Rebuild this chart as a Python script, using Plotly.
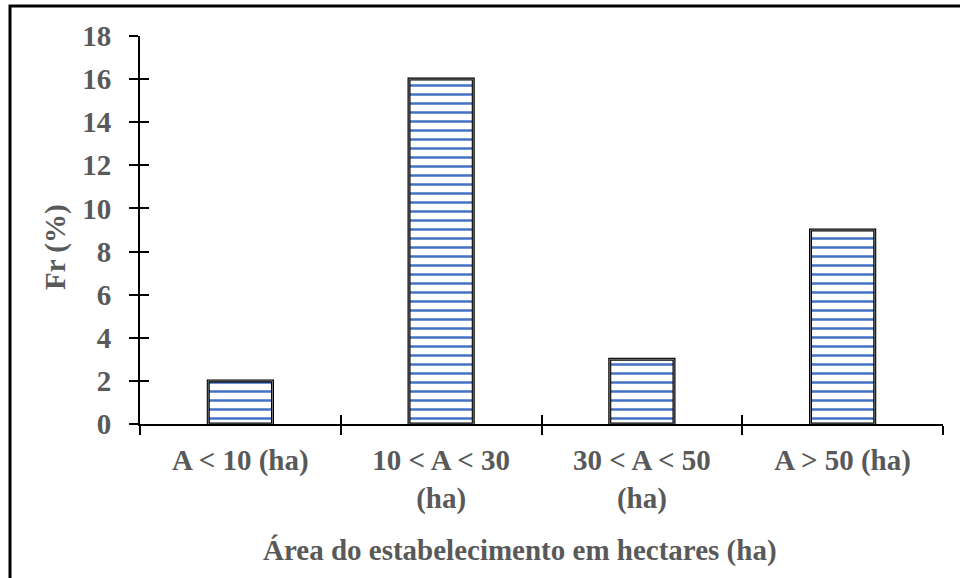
import plotly.graph_objects as go

categories = ["A &lt; 10 (ha)", "10 &lt; A &lt; 30<br>(ha)", "30 &lt; A &lt; 50<br>(ha)", "A &gt; 50 (ha)"]
values = [2, 16, 3, 9]
y_ticks = [0, 2, 4, 6, 8, 10, 12, 14, 16, 18]

font_family = "Liberation Serif, Times New Roman, serif"
gray = "#595959"

W, H = 960, 578
L, R, T, B = 140, 17, 36, 154
PW, PH = W - L - R, H - T - B

fig = go.Figure()
fig.add_trace(go.Bar(
    x=categories, y=values, width=0.32,
    marker=dict(color="white", line=dict(color="black", width=3),
                pattern=dict(shape="-", fgcolor="#4472C4", bgcolor="white",
                             size=9, solidity=0.28, fgopacity=1)),
    hoverinfo="skip", showlegend=False,
))
# invisible trace on overlay axes to render inner half of cross ticks
fig.add_trace(go.Bar(
    x=categories, y=values, width=0.32, xaxis="x2", yaxis="y2",
    marker=dict(color="rgba(0,0,0,0)"), hoverinfo="skip", showlegend=False,
))

axis_common = dict(showgrid=False, zeroline=False, showline=True,
                   linecolor="black", linewidth=2, tickcolor="black", tickwidth=2)

fig.update_layout(
    width=W, height=H,
    margin=dict(l=L, r=R, t=T, b=B),
    paper_bgcolor="white", plot_bgcolor="white",
    font=dict(family=font_family, color=gray, size=29),
    xaxis=dict(**axis_common, type="category", tickson="boundaries",
               ticks="outside", ticklen=9, ticklabelstandoff=9,
               tickfont=dict(family=font_family, size=29, color=gray, weight="bold")),
    yaxis=dict(**axis_common, range=[0, 18], tickvals=y_ticks,
               ticks="outside", ticklen=9, ticklabelstandoff=12,
               tickfont=dict(family=font_family, size=29, color=gray, weight="bold")),
    xaxis2=dict(**axis_common, type="category", tickson="boundaries", overlaying="x",
                matches="x", ticks="inside", ticklen=9, showticklabels=False),
    yaxis2=dict(**axis_common, range=[0, 18], tickvals=y_ticks, overlaying="y",
                matches="y", ticks="inside", ticklen=9, showticklabels=False),
    annotations=[
        dict(text="<b>Área do estabelecimento em hectares (ha)</b>", xref="paper", yref="paper",
             x=(520 - L) / PW, y=(H - B - 550) / PH, xanchor="center", yanchor="middle",
             showarrow=False, font=dict(family=font_family, size=29, color=gray)),
        dict(text="<b>Fr (%)</b>", xref="paper", yref="paper", textangle=-90,
             x=(55 - L) / PW, y=(H - B - 247) / PH, xanchor="center", yanchor="middle",
             showarrow=False, font=dict(family=font_family, size=29, color=gray)),
    ],
    shapes=[dict(type="rect", xref="paper", yref="paper",
                 x0=(10 - L) / PW, x1=1 + 40 / PW, y0=-(B + 20) / PH, y1=1 + (T - 6) / PH,
                 line=dict(color="black", width=3), fillcolor="rgba(0,0,0,0)", layer="below")],
)

fig.write_html("out.html", config={"displayModeBar": False},
               post_script="document.body.style.margin='0';document.body.style.overflow='hidden';")
